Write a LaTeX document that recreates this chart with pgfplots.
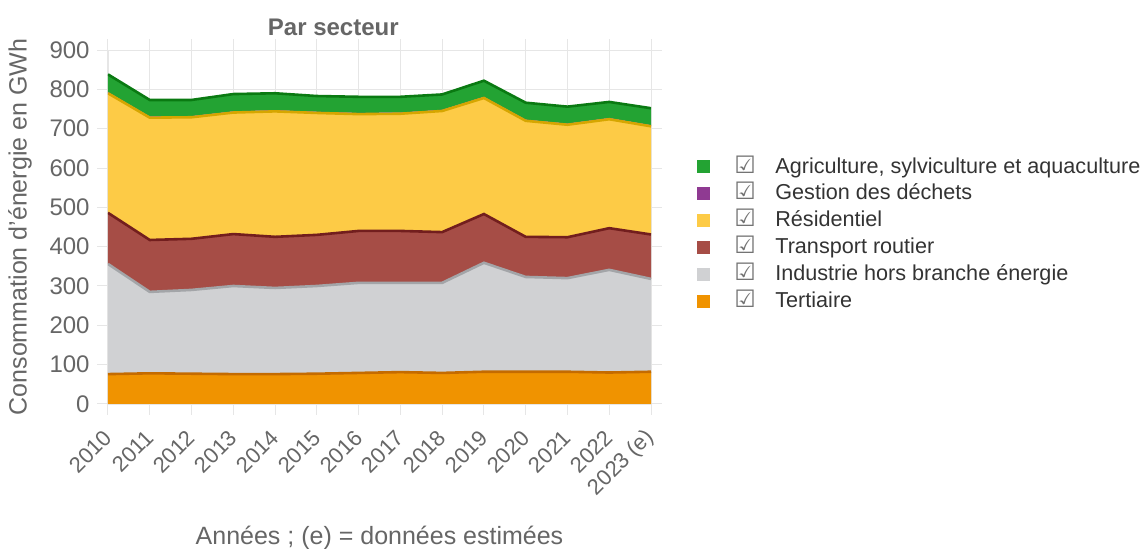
\documentclass[border=0pt]{standalone}
\usepackage{fontspec}
\setmainfont{Liberation Sans}
\newfontfamily\symfont{DejaVu Sans}
\usepackage{pgfplots}
\usepackage{pgfplotstable}
\pgfplotsset{compat=1.18}

\definecolor{agri}{HTML}{23A333}
\definecolor{agriL}{HTML}{0A7A12}
\definecolor{dech}{HTML}{8F3A92}
\definecolor{resid}{HTML}{FDCB46}
\definecolor{residL}{HTML}{D6A600}
\definecolor{transp}{HTML}{A64D46}
\definecolor{transpL}{HTML}{721E1E}
\definecolor{indus}{HTML}{D0D1D3}
\definecolor{indusL}{HTML}{A3A5A8}
\definecolor{tert}{HTML}{F09300}
\definecolor{tertL}{HTML}{C46B00}
\definecolor{gridc}{HTML}{E6E6E6}
\definecolor{labc}{HTML}{666666}
\definecolor{legc}{HTML}{333333}

% consommation par secteur (GWh), 0 = 2010 ... 13 = 2023 (e)
\pgfplotstableread{
x  tert indus transp resid dech agri
0  76   280   130    304   3    45
1  78   207   132    311   3    42
2  77   213   130    309   3    41
3  76   224   132    309   3    44
4  76   219   130    319   3    43
5  77   223   130    310   3    40
6  79   229   132    297   3    41
7  81   227   132    298   3    40
8  79   229   129    308   3    39
9  82   277   124    295   3    41
10 82   241   102    295   3    43
11 82   238   104    286   3    43
12 80   261   106    277   3    41
13 82   236   113    275   3    43
}\secteurs

\newcommand\lblfnt{\fontsize{12.5}{15}\selectfont}
\newcommand\legtxt[1]{\makebox[32.5pt][l]{\hspace{12pt}{\symfont\fontsize{12}{12}\selectfont\textcolor{black!55}{☑}}}#1}

\pgfplotsset{
  base/.style={
    scale only axis, width=271.5pt, height=177pt,
    xmin=0, xmax=13, ymin=0, ymax=900,
    at={(0pt,0pt)}, anchor=south west,
    stack plots=y,
  },
}

\begin{document}
\begin{tikzpicture}
\useasboundingbox (-54pt,-72.5pt) rectangle (517pt,202pt);
\begin{axis}[
  base,
  /pgf/number format/assume math mode=true,
  xtick={0,...,13},
  xticklabels={2010,2011,2012,2013,2014,2015,2016,2017,2018,2019,2020,2021,2022,2023 (e)},
  ytick={0,100,...,900},
  grid=major,
  grid style={gridc, line width=0.5pt},
  axis line style={gridc},
  tick align=outside,
  major tick length=5.5pt,
  tick style={gridc, line width=0.5pt},
  ticklabel style={text=labc},
  xticklabel style={rotate=45, anchor=east, inner sep=0pt, font=\fontsize{11}{13}\selectfont},
  xticklabel shift=9.5pt,
  yticklabel style={inner sep=0pt, font=\fontsize{12}{14}\selectfont},
  yticklabel shift=3.5pt,
  title={Par secteur},
  title style={at={(axis description cs:0.415,1.031)}, anchor=center,
    font=\fontsize{12}{14}\selectfont\bfseries, text=labc},
  xlabel={Années ; (e) = données estimées},
  xlabel style={at={(axis description cs:0.5,-0.3785)}, anchor=center, font=\lblfnt, text=labc},
  ylabel={Consommation d'énergie en GWh},
  ylabel style={at={(axis description cs:-0.162,0.5)}, anchor=center, font=\lblfnt, text=labc},
  reverse legend,
  legend image code/.code={\fill[#1, draw=none] (0pt,-2.5pt) rectangle (6.5pt,4pt);},
  legend cell align=left,
  legend style={at={(axis description cs:1.0847,0.696)}, anchor=north west, inner sep=0pt,
    draw=none, fill=none, font=\fontsize{10.8}{13}\selectfont, text=legc, row sep=3.45pt,
    nodes={inner sep=0pt, text height=7.5pt, text depth=2.5pt}},
]
\addplot[fill=tert, draw=none] table[x=x, y=tert] {\secteurs} \closedcycle;
\addlegendentry{\legtxt{Tertiaire}}
\addplot[fill=indus, draw=none] table[x=x, y=indus] {\secteurs} \closedcycle;
\addlegendentry{\legtxt{Industrie hors branche énergie}}
\addplot[fill=transp, draw=none] table[x=x, y=transp] {\secteurs} \closedcycle;
\addlegendentry{\legtxt{Transport routier}}
\addplot[fill=resid, draw=none] table[x=x, y=resid] {\secteurs} \closedcycle;
\addlegendentry{\legtxt{Résidentiel}}
\addplot[fill=dech, draw=none] table[x=x, y=dech] {\secteurs} \closedcycle;
\addlegendentry{\legtxt{Gestion des déchets}}
\addplot[fill=agri, draw=none] table[x=x, y=agri] {\secteurs} \closedcycle;
\addlegendentry{\legtxt{Agriculture, sylviculture et aquaculture}}
\end{axis}
% lignes du haut de chaque secteur
\begin{axis}[base, hide axis]
\addplot[tertL, line width=1.3pt] table[x=x, y=tert] {\secteurs};
\addplot[indusL, line width=1.3pt] table[x=x, y=indus] {\secteurs};
\addplot[transpL, line width=1.3pt] table[x=x, y=transp] {\secteurs};
\addplot[residL, line width=1.3pt] table[x=x, y=resid] {\secteurs};
\addplot[draw=none] table[x=x, y=dech] {\secteurs};
\addplot[agriL, line width=1.3pt] table[x=x, y=agri] {\secteurs};
\end{axis}
\end{tikzpicture}
\end{document}
